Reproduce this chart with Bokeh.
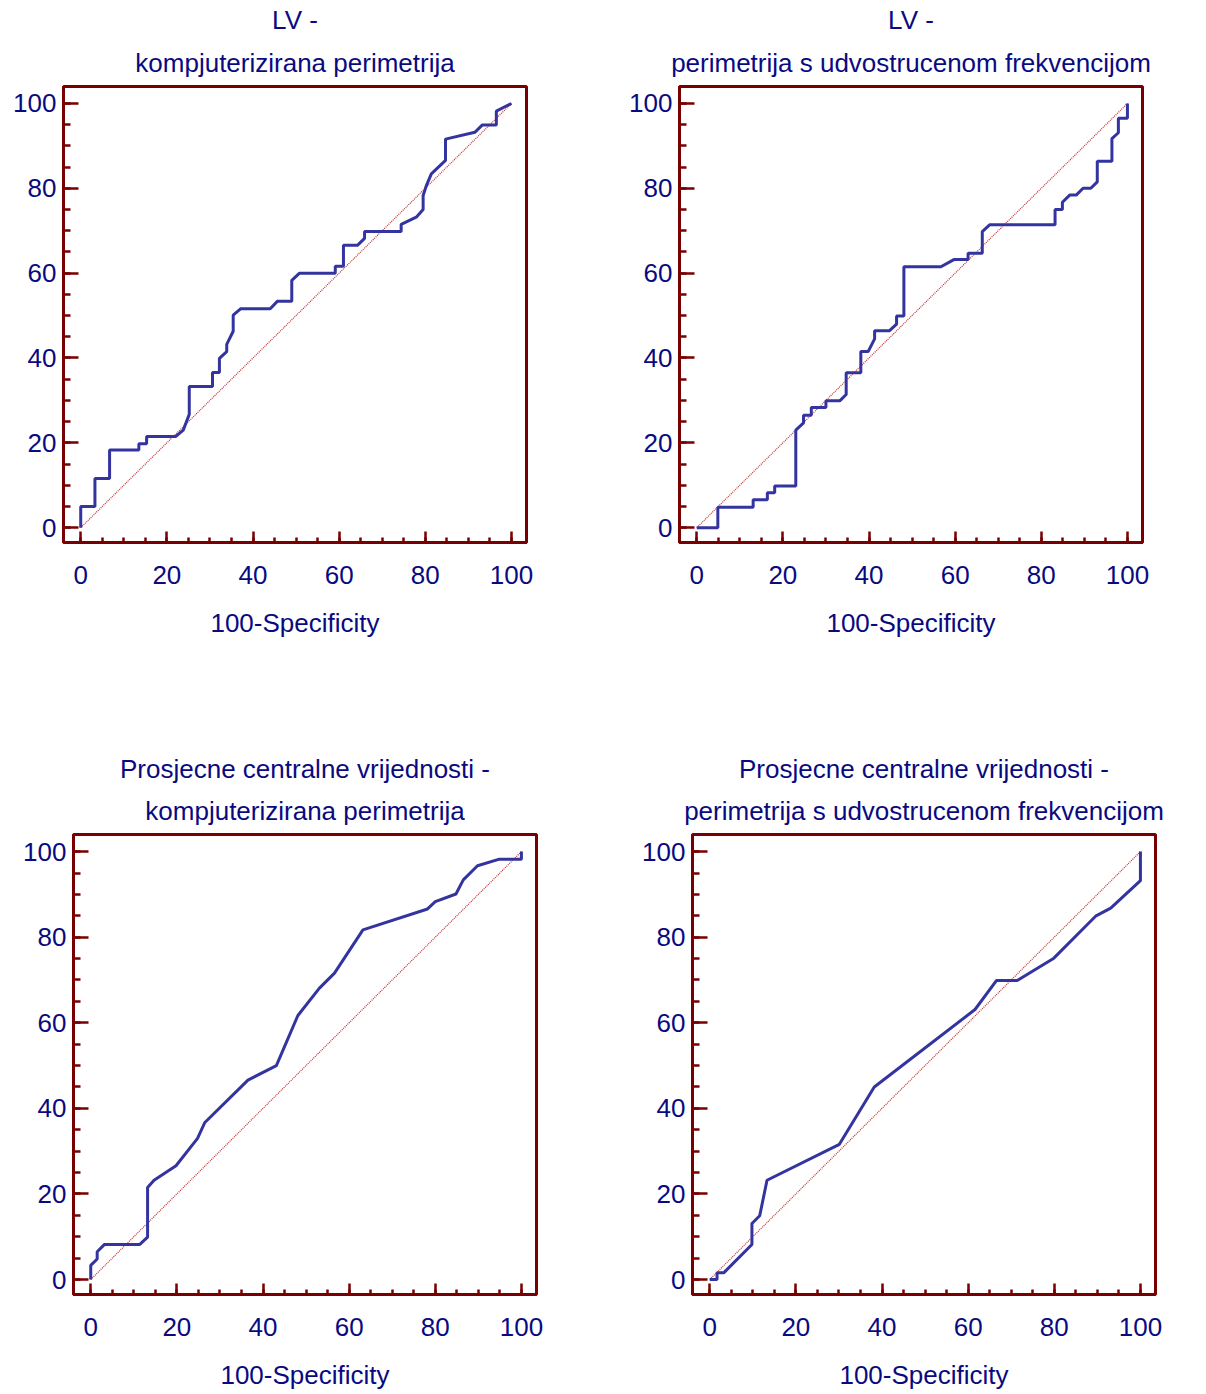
from bokeh.plotting import figure
from bokeh.models import Range1d, FixedTicker, Title
from bokeh.layouts import column, row
from bokeh.embed import file_html
from bokeh.resources import INLINE

# ---------------- data ----------------
titles_1 = ["LV -", "kompjuterizirana perimetrija"]
titles_2 = ["LV -", "perimetrija s udvostrucenom frekvencijom"]
titles_3 = ["Prosjecne centralne vrijednosti -", "kompjuterizirana perimetrija"]
titles_4 = ["Prosjecne centralne vrijednosti -", "perimetrija s udvostrucenom frekvencijom"]
x_label = "100-Specificity"
tick_values = [0, 20, 40, 60, 80, 100]
minor_values = list(range(0, 101, 5))
diag = [0, 100]

roc1_x = [0, 0, 3.3, 3.3, 6.7, 6.7, 13.5, 13.5, 15.3, 15.3, 22.1, 23.8, 25.2, 25.2, 30.6, 30.6,
          32.2, 32.2, 33.9, 33.9, 35.4, 35.4, 37.1, 44.0, 45.7, 49.0, 49.0, 50.8, 59.1, 59.1,
          61.0, 61.0, 64.3, 65.9, 65.9, 74.4, 74.4, 77.9, 79.5, 79.5, 80.2, 81.4, 84.7, 84.7,
          91.5, 93.2, 96.5, 96.5, 100]
roc1_y = [0, 5.0, 5.0, 11.6, 11.6, 18.3, 18.3, 19.8, 19.8, 21.5, 21.5, 23.0, 26.7, 33.3, 33.3, 36.6,
          36.6, 39.9, 41.5, 43.2, 46.3, 50.1, 51.6, 51.6, 53.4, 53.4, 58.3, 60.0, 60.0, 61.6,
          61.6, 66.6, 66.6, 68.2, 69.8, 69.8, 71.5, 73.2, 75.0, 78.3, 80.5, 83.4, 86.6, 91.6,
          93.2, 94.9, 94.9, 98.2, 100]

roc2_x = [0, 4.9, 4.9, 13.1, 13.1, 16.4, 16.4, 18.1, 18.1, 23.0, 23.0, 24.8, 24.8, 26.6, 26.6,
          30.0, 30.0, 33.2, 34.7, 34.7, 38.1, 38.1, 39.8, 41.3, 41.3, 44.7, 46.4, 46.4, 48.1,
          48.1, 56.7, 59.7, 63.0, 63.0, 66.3, 66.3, 68.0, 83.2, 83.2, 84.9, 84.9, 86.6, 88.1,
          89.7, 91.5, 93.0, 93.0, 96.4, 96.4, 97.9, 97.9, 100, 100]
roc2_y = [0, 0, 4.8, 4.8, 6.6, 6.6, 8.2, 8.2, 9.8, 9.8, 23.0, 24.7, 26.5, 26.5, 28.3,
          28.3, 29.9, 29.9, 31.4, 36.5, 36.5, 41.5, 41.5, 44.5, 46.4, 46.4, 48.0, 49.9, 49.9,
          61.5, 61.5, 63.2, 63.2, 64.7, 64.7, 69.8, 71.4, 71.4, 75.0, 75.0, 76.7, 78.4, 78.4,
          80.0, 80.0, 81.5, 86.4, 86.4, 91.7, 93.1, 96.5, 96.5, 100]

roc3_x = [0, 0, 1.5, 1.5, 3.2, 11.4, 13.2, 13.2, 14.7, 19.8, 24.8, 26.5, 36.5, 43.1, 48.1,
          53.1, 56.6, 63.2, 78.2, 80.0, 84.8, 86.5, 89.8, 94.7, 100, 100]
roc3_y = [0, 3.3, 4.8, 6.5, 8.2, 8.2, 9.9, 21.5, 23.2, 26.6, 33.0, 36.7, 46.6, 50.0, 61.7,
          68.1, 71.6, 81.7, 86.6, 88.3, 90.1, 93.4, 96.7, 98.2, 98.2, 100]

roc4_x = [0, 1.7, 1.7, 3.3, 9.8, 9.8, 11.6, 13.3, 30.1, 38.2, 61.6, 66.6, 71.4, 79.9, 89.7,
          93.1, 100, 100]
roc4_y = [0, 0, 1.6, 1.6, 8.2, 13.1, 14.9, 23.2, 31.6, 45.0, 63.1, 69.9, 69.9, 75.1, 85.0,
          86.8, 93.2, 100]

# ---------------- styling ----------------
MAROON = "#780000"
NAVY = "#0a0a80"
BLUE = "#3434a0"
DIAG = "#c03030"
FONT = "Liberation Sans"
FS = "26px"


def make_panel(titles, xs, ys, width, height, bl, br, bt, bb, s2, s1):
    p = figure(width=width, height=height, output_backend="svg", toolbar_location=None,
               title=None, x_range=Range1d(-4, 103.5), y_range=Range1d(-3.5, 104),
               min_border_left=bl, min_border_right=br, min_border_top=bt,
               min_border_bottom=bb, background_fill_color="white",
               border_fill_color="white")
    p.grid.visible = False
    p.outline_line_color = MAROON
    p.outline_line_width = 3
    p.outline_line_alpha = 1.0

    for ax, maj, mnr in ((p.xaxis[0], 11, 5), (p.yaxis[0], 15, 7)):
        ax.ticker = FixedTicker(ticks=tick_values, minor_ticks=minor_values)
        ax.major_tick_in = maj
        ax.major_tick_out = 0
        ax.minor_tick_in = mnr
        ax.minor_tick_out = 0
        ax.major_tick_line_color = MAROON
        ax.minor_tick_line_color = MAROON
        ax.major_tick_line_width = 2.5
        ax.minor_tick_line_width = 2.5
        ax.axis_line_color = MAROON
        ax.axis_line_width = 3
        ax.major_label_text_font = FONT
        ax.major_label_text_font_size = FS
        ax.major_label_text_color = NAVY

    p.xaxis.major_label_standoff = 23
    p.yaxis.major_label_standoff = 7
    p.xaxis.axis_label = x_label
    p.xaxis.axis_label_text_font = FONT
    p.xaxis.axis_label_text_font_size = FS
    p.xaxis.axis_label_text_font_style = "normal"
    p.xaxis.axis_label_text_color = NAVY
    p.xaxis.axis_label_standoff = 21

    p.add_layout(Title(text=titles[1], align="center", text_font=FONT,
                       text_font_size=FS, text_font_style="normal",
                       text_color=NAVY, standoff=s2), "above")
    p.add_layout(Title(text=titles[0], align="center", text_font=FONT,
                       text_font_size=FS, text_font_style="normal",
                       text_color=NAVY, standoff=s1), "above")

    p.line(diag, diag, line_color=DIAG, line_width=1.2, line_dash="1 1")
    p.line(xs, ys, line_color=BLUE, line_width=3)
    return p


p1 = make_panel(titles_1, roc1_x, roc1_y, 608, 706, 63, 82, 85, 161, 18, 4)
p2 = make_panel(titles_2, roc2_x, roc2_y, 598, 706, 71, 64, 82, 164, 18, 4)
p3 = make_panel(titles_3, roc3_x, roc3_y, 608, 688, 73, 72, 128, 100, 18, 2)
p4 = make_panel(titles_4, roc4_x, roc4_y, 598, 688, 84, 51, 128, 100, 18, 2)

layout = column(row(p1, p2), row(p3, p4))

with open("out.html", "w") as f:
    f.write(file_html(layout, INLINE))
